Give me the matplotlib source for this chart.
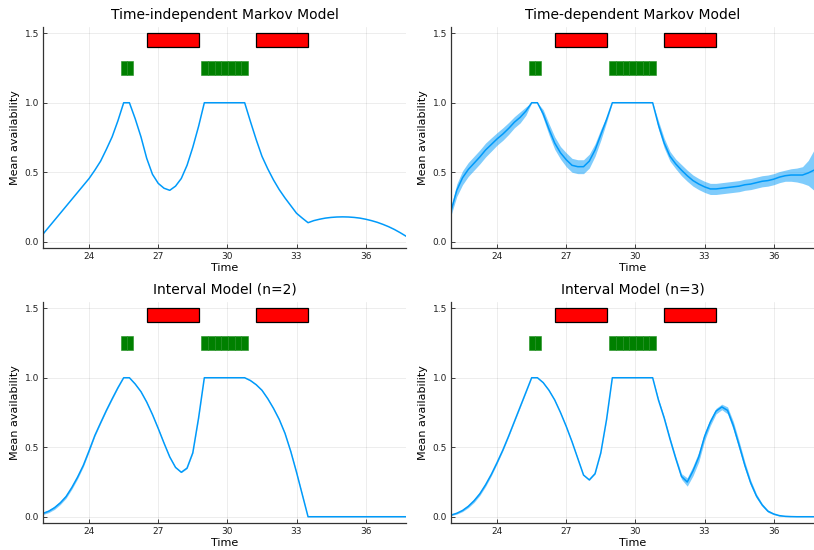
import numpy as np
import matplotlib
matplotlib.use("Agg")
import matplotlib.pyplot as plt
from matplotlib.patches import Rectangle

# ---------------- data ----------------
time = [22.0, 22.25, 22.5, 22.75, 23.0, 23.25, 23.5, 23.75, 24.0, 24.25, 24.5, 24.75,
        25.0, 25.25, 25.5, 25.75, 26.0, 26.25, 26.5, 26.75, 27.0, 27.25, 27.5, 27.75,
        28.0, 28.25, 28.5, 28.75, 29.0, 29.25, 29.5, 29.75, 30.0, 30.25, 30.5, 30.75,
        31.0, 31.25, 31.5, 31.75, 32.0, 32.25, 32.5, 32.75, 33.0, 33.25, 33.5, 33.75,
        34.0, 34.25, 34.5, 34.75, 35.0, 35.25, 35.5, 35.75, 36.0, 36.25, 36.5, 36.75,
        37.0, 37.25, 37.5, 37.75]

tim_mean = [0.055, 0.105, 0.155, 0.205, 0.255, 0.305, 0.355, 0.405, 0.455, 0.515, 0.58, 0.665,
            0.755, 0.87, 1.0, 1.0, 0.885, 0.755, 0.60, 0.485, 0.42, 0.385, 0.37, 0.40,
            0.455, 0.55, 0.68, 0.83, 1.0, 1.0, 1.0, 1.0, 1.0, 1.0, 1.0, 1.0,
            0.865, 0.735, 0.615, 0.525, 0.445, 0.375, 0.315, 0.26, 0.205, 0.17, 0.137, 0.152,
            0.162, 0.17, 0.175, 0.178, 0.179, 0.178, 0.175, 0.17, 0.162, 0.152, 0.14, 0.125,
            0.108, 0.088, 0.065, 0.04]
tim_band = [0.0] * 64

tdm_mean = [0.22, 0.37, 0.46, 0.52, 0.565, 0.61, 0.66, 0.70, 0.74, 0.775, 0.815, 0.86,
            0.895, 0.94, 1.0, 1.0, 0.92, 0.81, 0.71, 0.64, 0.59, 0.55, 0.54, 0.54,
            0.58, 0.66, 0.77, 0.88, 1.0, 1.0, 1.0, 1.0, 1.0, 1.0, 1.0, 1.0,
            0.84, 0.71, 0.615, 0.56, 0.515, 0.475, 0.44, 0.415, 0.395, 0.38, 0.38, 0.385,
            0.39, 0.395, 0.40, 0.41, 0.415, 0.425, 0.435, 0.44, 0.45, 0.465, 0.475, 0.48,
            0.48, 0.48, 0.495, 0.515]
tdm_band = [0.03, 0.045, 0.05, 0.05, 0.05, 0.05, 0.05, 0.048, 0.045, 0.045, 0.043, 0.04,
            0.04, 0.03, 0.0, 0.0, 0.03, 0.04, 0.045, 0.045, 0.05, 0.05, 0.05, 0.05,
            0.05, 0.045, 0.04, 0.02, 0.0, 0.0, 0.0, 0.0, 0.0, 0.0, 0.0, 0.0,
            0.03, 0.035, 0.035, 0.035, 0.04, 0.04, 0.04, 0.04, 0.04, 0.04, 0.04, 0.04,
            0.04, 0.04, 0.04, 0.04, 0.04, 0.04, 0.04, 0.04, 0.04, 0.04, 0.04, 0.045,
            0.05, 0.06, 0.09, 0.145]

int2_mean = [0.024, 0.04, 0.065, 0.10, 0.145, 0.21, 0.285, 0.37, 0.475, 0.585, 0.676, 0.765,
             0.848, 0.928, 1.0, 1.0, 0.955, 0.90, 0.825, 0.735, 0.635, 0.53, 0.43, 0.355,
             0.32, 0.35, 0.46, 0.71, 1.0, 1.0, 1.0, 1.0, 1.0, 1.0, 1.0, 1.0,
             0.98, 0.95, 0.91, 0.85, 0.78, 0.70, 0.60, 0.47, 0.32, 0.16, 0.0, 0.0,
             0.0, 0.0, 0.0, 0.0, 0.0, 0.0, 0.0, 0.0, 0.0, 0.0, 0.0, 0.0,
             0.0, 0.0, 0.0, 0.0]
int2_band = [0.008, 0.01, 0.012, 0.012, 0.012, 0.012, 0.012, 0.01, 0.008, 0.006, 0.005, 0.004,
             0.004, 0.003, 0.0, 0.0, 0.003, 0.003, 0.003, 0.003, 0.003, 0.003, 0.003, 0.003,
             0.003, 0.003, 0.003, 0.003, 0.0, 0.0, 0.0, 0.0, 0.0, 0.0, 0.0, 0.0,
             0.003, 0.003, 0.003, 0.003, 0.003, 0.003, 0.003, 0.003, 0.003, 0.003, 0.0, 0.0,
             0.0, 0.0, 0.0, 0.0, 0.0, 0.0, 0.0, 0.0, 0.0, 0.0, 0.0, 0.0,
             0.0, 0.0, 0.0, 0.0]

int3_mean = [0.012, 0.025, 0.045, 0.075, 0.115, 0.165, 0.23, 0.305, 0.39, 0.48, 0.58, 0.685,
             0.79, 0.895, 1.0, 1.0, 0.965, 0.91, 0.84, 0.75, 0.65, 0.54, 0.42, 0.30,
             0.265, 0.31, 0.46, 0.70, 1.0, 1.0, 1.0, 1.0, 1.0, 1.0, 1.0, 1.0,
             0.84, 0.71, 0.56, 0.42, 0.29, 0.25, 0.33, 0.43, 0.576, 0.68, 0.76, 0.79,
             0.765, 0.655, 0.515, 0.37, 0.245, 0.15, 0.085, 0.04, 0.02, 0.008, 0.003, 0.001,
             0.0, 0.0, 0.0, 0.0]
int3_band = [0.004, 0.006, 0.008, 0.01, 0.012, 0.012, 0.012, 0.01, 0.008, 0.006, 0.005, 0.004,
             0.004, 0.003, 0.0, 0.0, 0.003, 0.003, 0.003, 0.003, 0.003, 0.003, 0.003, 0.003,
             0.003, 0.003, 0.003, 0.003, 0.0, 0.0, 0.0, 0.0, 0.0, 0.0, 0.0, 0.0,
             0.01, 0.012, 0.015, 0.015, 0.02, 0.03, 0.035, 0.035, 0.03, 0.025, 0.02, 0.02,
             0.025, 0.03, 0.03, 0.025, 0.02, 0.015, 0.01, 0.008, 0.005, 0.004, 0.002, 0.0,
             0.0, 0.0, 0.0, 0.0]

titles = ["Time-independent Markov Model", "Time-dependent Markov Model",
          "Interval Model (n=2)", "Interval Model (n=3)"]
means = [tim_mean, tdm_mean, int2_mean, int3_mean]
bands = [tim_band, tdm_band, int2_band, int3_band]

red_starts = [26.5, 31.25]
red_ends = [28.75, 33.5]
red_y = (1.4, 1.5)
green_edges = [[25.37, 25.64, 25.91],
               [28.87, 29.16, 29.45, 29.74, 30.02, 30.31, 30.6, 30.89]]
green_y = (1.2, 1.3)

xticks = [24, 27, 30, 33, 36]
yticks = [0.0, 0.5, 1.0, 1.5]
ytick_labels = ["0.0", "0.5", "1.0", "1.5"]

# ---------------- figure ----------------
W, H = 814, 550
fig = plt.figure(figsize=(W / 100, H / 100), dpi=100)
plt.rcParams['font.family'] = ['DejaVu Sans']

boxes = [(43, 27, 406, 248), (451, 27, 814, 248),
         (43, 302, 406, 523), (451, 302, 814, 523)]
blue = '#009AFA'

for k in range(4):
    l, t, r, b = boxes[k]
    ax = fig.add_axes([l / W, 1 - b / H, (r - l) / W, (b - t) / H])
    x = np.array(time)
    m = np.array(means[k])
    hw = np.array(bands[k])
    ax.fill_between(x, m - hw, m + hw, color=blue, alpha=0.5, linewidth=0)
    ax.plot(x, m, color=blue, lw=1.1)

    for s, e in zip(red_starts, red_ends):
        ax.add_patch(Rectangle((s, red_y[0]), e - s, red_y[1] - red_y[0],
                               facecolor='#FF0000', edgecolor='black', lw=0.9, zorder=3))
    for edges in green_edges:
        for a, c in zip(edges[:-1], edges[1:]):
            ax.add_patch(Rectangle((a, green_y[0]), c - a, green_y[1] - green_y[0],
                                   facecolor='#008000', edgecolor='#1f8f1f', lw=0.4, zorder=3))

    ax.set_xlim(22, 37.75)
    ax.set_ylim(-0.045, 1.545)
    ax.set_xticks(xticks)
    ax.set_yticks(yticks)
    ax.set_yticklabels(ytick_labels)
    ax.tick_params(direction='in', length=3, width=0.6, labelsize=6.5, colors='#222222',
                   pad=3)
    ax.grid(True, color='black', alpha=0.1, lw=0.5)
    ax.set_axisbelow(True)
    for sp in ['top', 'right']:
        ax.spines[sp].set_visible(False)
    for sp in ['left', 'bottom']:
        ax.spines[sp].set_color('#333333')
        ax.spines[sp].set_linewidth(0.9)
    ax.set_title(titles[k], fontsize=10, pad=6)
    ax.set_xlabel("Time", fontsize=8, labelpad=1)
    ax.set_ylabel("Mean availability", fontsize=8, labelpad=3)

fig.savefig("out.png", dpi=100)
